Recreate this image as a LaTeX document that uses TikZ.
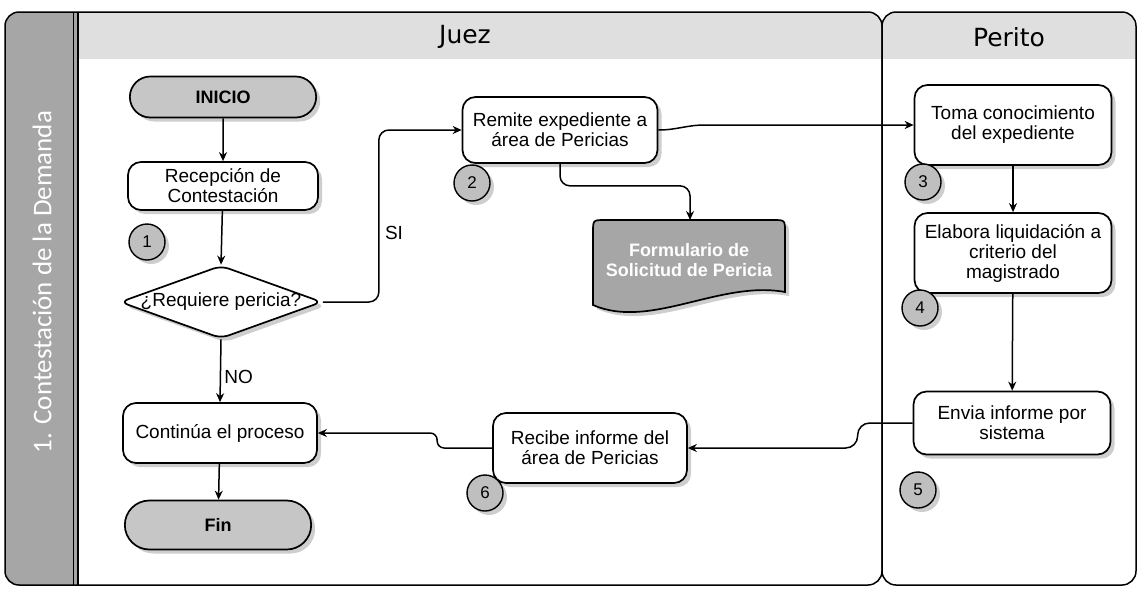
\documentclass[tikz,border=0pt]{standalone}
\usepackage{fontspec}
\setmainfont{Liberation Sans}
\newfontfamily\dejavu{DejaVu Sans}
\newfontfamily\carl{Carlito}
\usetikzlibrary{shapes.geometric,shapes.misc,shadows,arrows.meta}
\begin{document}
\begin{tikzpicture}[x=1pt,y=-1pt,
  every node/.style={font=\fontsize{19}{20}\selectfont},
  shd/.style={drop shadow={shadow xshift=4pt,shadow yshift=-4pt,fill=gray!55,opacity=0.7}},
  proc/.style={draw=black, line width=1.7pt, rounded corners=13pt, fill=white, align=center, inner sep=2pt, shd},
  term/.style={rounded rectangle, draw=black, line width=1.7pt, fill=gray!45, shd, font=\fontsize{18}{20}\selectfont\bfseries},
  num/.style={circle, draw=black, line width=1.4pt, fill=gray!50, minimum size=36pt, inner sep=0pt, font=\fontsize{17}{17}\selectfont, shd},
  arr/.style={-{Stealth[length=9pt,width=8pt]}, line width=1.5pt},
  lane/.style={line width=1.5pt},
  hdr/.style={fill=gray!25},
  lbl/.style={font=\fontsize{19}{20}\selectfont},
]
\useasboundingbox (0,0) rectangle (1139,590);

% ---- header fills
\begin{scope}
  \clip (78,12) rectangle (882,58);
  \fill[hdr, rounded corners=14pt] (40,12) rectangle (882,585);
\end{scope}
\begin{scope}
  \clip (882,12) rectangle (1137,58);
  \fill[hdr, rounded corners=14pt] (882,12) rectangle (1136,585);
\end{scope}

% ---- left band
\begin{scope}
  \clip (0,0) rectangle (78,590);
  \draw[lane, fill=gray!70, rounded corners=14pt] (5,12) rectangle (130,585);
\end{scope}
\draw[line width=1pt] (73,12) -- (73,585);
\draw[lane] (78,12) -- (78,585);
\node[rotate=90, text=white, font=\carl\fontsize{27}{28}\selectfont] (band) at (42,282) {1. Contestación de la Demanda};

% ---- lane outlines
\draw[lane, rounded corners=14pt] (78,12) -- (882,12) -- (882,585) -- (78,585);
\draw[lane, rounded corners=14pt] (882,12) rectangle (1136,585);

\node[font=\dejavu\fontsize{25}{26}\selectfont] (juez) at (465,37) {Juez};
\node[font=\dejavu\fontsize{25}{26}\selectfont] (perito) at (1009,37) {Perito};

% ---- nodes
\node[term, minimum width=193pt, minimum height=41pt] (ini) at (223,97) {INICIO};
\node[proc, minimum width=190pt, minimum height=48pt] (recep) at (223,186) {Recepción de\\Contestación};
\node[diamond, draw=black, line width=1.7pt, fill=white, minimum width=202pt, minimum height=73pt, inner sep=0pt, rounded corners=8pt, shd] (dia) at (221,302) {};
\node (diat) at (dia.center) {¿Requiere pericia?};
\node[proc, minimum width=194pt, minimum height=60pt] (cont) at (220,433) {Continúa el proceso};
\node[term, minimum width=193pt, minimum height=49pt] (fin) at (218,525) {Fin};

\node[proc, minimum width=195pt, minimum height=66pt] (rem) at (560,130) {Remite expediente a\\área de Pericias};
\node[proc, minimum width=194pt, minimum height=70pt] (recb) at (590,448) {Recibe informe del\\área de Pericias};

% document shape
\fill[gray!55, opacity=0.7, shift={(4pt,-4pt)}] (593,305) -- (593,232) .. controls (593,220) .. (605,220) -- (773,220) .. controls (785,220) .. (785,232) -- (785,292) .. controls (720,280) and (650,330) .. (593,305) -- cycle;
\draw[line width=1.7pt, fill=gray!70] (593,305) -- (593,232) .. controls (593,220) .. (605,220) -- (773,220) .. controls (785,220) .. (785,232) -- (785,292) .. controls (720,280) and (650,330) .. (593,305) -- cycle;
\node[text=white, align=center, font=\fontsize{18}{20}\selectfont\bfseries] (form) at (689,260) {Formulario de\\Solicitud de Pericia};
\coordinate (formtop) at (690,220);

\node[proc, minimum width=197pt, minimum height=80pt] (toma) at (1013,125) {Toma conocimiento\\del expediente};
\node[proc, minimum width=197pt, minimum height=80pt] (elab) at (1013,253) {Elabora liquidación a\\criterio del\\magistrado};
\node[proc, minimum width=197pt, minimum height=63pt] (env) at (1012,423) {Envia informe por\\sistema};

% ---- number circles
\node[num] (n1) at (147,242) {1};
\node[num] (n2) at (472,183) {2};
\node[num] (n3) at (923,182) {3};
\node[num] (n4) at (920,308) {4};
\node[num] (n5) at (918,490) {5};
\node[num] (n6) at (485,493) {6};

% ---- connectors
\draw[arr] (ini) -- (recep);
\draw[arr] (recep) -- (dia.north);
\draw[arr] (dia.south) -- (cont.north) node[pos=0.6, right, lbl] {NO};
\draw[arr] (cont) -- (fin);
\draw[arr, rounded corners=10pt] (dia.east) -- ++(56,0) |- (rem.west);
\node[lbl] (si) at (394,233) {SI};
\draw[arr, rounded corners=10pt] (rem.south) -- ++(0,22) -| (formtop);
\draw[arr] (rem.east) to[out=0,in=180] (705,125) -- (toma.west);
\draw[arr] (toma) -- (elab);
\draw[arr] (elab) -- (env);
\draw[arr, rounded corners=12pt] (env.west) -- ++(-55,0) |- (recb.east);
\draw[arr, rounded corners=7pt] (recb.west) -- ++(-55,0) |- (cont.east);
\end{tikzpicture}
\end{document}
